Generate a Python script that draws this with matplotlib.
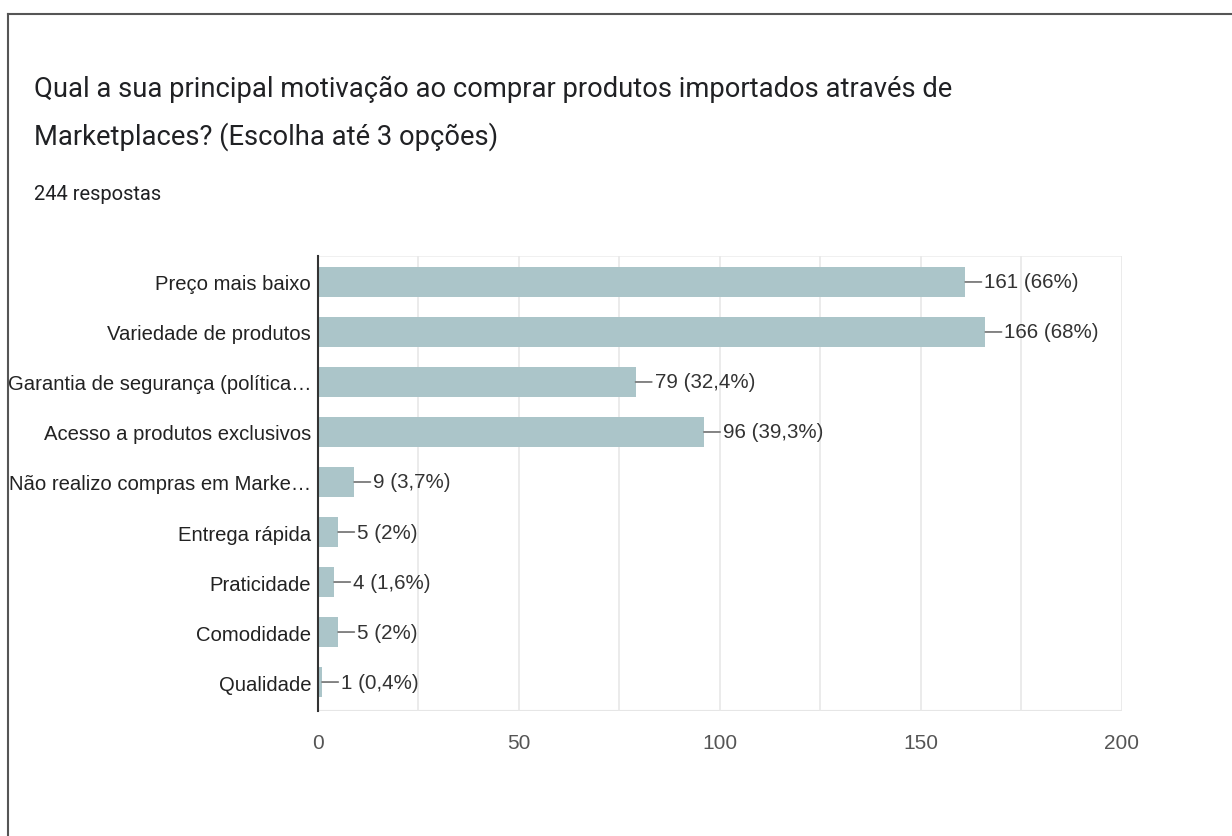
import matplotlib.pyplot as plt
from matplotlib.lines import Line2D

# Respostas do formulário
categorias = [
    'Preço mais baixo',
    'Variedade de produtos',
    'Garantia de segurança (política…',
    'Acesso a produtos exclusivos',
    'Não realizo compras em Marke…',
    'Entrega rápida',
    'Praticidade',
    'Comodidade',
    'Qualidade',
]
respostas = [161, 166, 79, 96, 9, 5, 4, 5, 1]
rotulos = ['161 (66%)', '166 (68%)', '79 (32,4%)', '96 (39,3%)', '9 (3,7%)',
           '5 (2%)', '4 (1,6%)', '5 (2%)', '1 (0,4%)']
ticks_x = [0, 50, 100, 150, 200]

fonte = ['Liberation Sans', 'DejaVu Sans']

fig = plt.figure(figsize=(12.32, 8.37), dpi=100)
ax = fig.add_axes([0.2581, 0.1493, 0.6526, 0.5437])

pos = list(range(len(categorias)))
ax.barh(pos, respostas, height=0.6, color='#abc5c9', zorder=2)

for i, (v, txt) in enumerate(zip(respostas, rotulos)):
    ax.annotate(txt, xy=(v, i), xytext=(19, 0), textcoords='offset pixels',
                va='center', ha='left', fontsize=14.8, color='#333333',
                family=fonte,
                arrowprops=dict(arrowstyle='-', color='#7a7a7a', lw=1.3,
                                shrinkA=0, shrinkB=0))

ax.set_xlim(0, 200)
ax.set_ylim(8.58, -0.52)
ax.set_yticks(pos)
ax.set_yticklabels(categorias, fontsize=14.6, color='#222222', family=fonte)
ax.set_xticks(ticks_x)
ax.set_xticklabels([str(t) for t in ticks_x], fontsize=15, color='#555555',
                   family=fonte)
ax.set_xticks(range(0, 201, 25), minor=True)
ax.tick_params(axis='both', which='both', length=0)
ax.tick_params(axis='y', pad=5)
ax.tick_params(axis='x', pad=16)
ax.grid(axis='x', which='both', color='#e8e8e8', lw=1.2, zorder=0)

for lado in ['top', 'bottom', 'right']:
    ax.spines[lado].set_visible(False)
ax.spines['left'].set_color('#333333')
ax.spines['left'].set_linewidth(1.5)
ax.spines['left'].set_zorder(3)
ax.axhline(-0.52, color='#eeeeee', lw=1.2, zorder=0)
ax.axhline(8.58, color='#e6e6e6', lw=1.5, zorder=0)

# Título e número de respostas
fig.text(0.0276, 0.893, 'Qual a sua principal motivação ao comprar produtos importados através de',
         fontsize=19.75, family='Roboto', color='#202124', va='center')
fig.text(0.0276, 0.837, 'Marketplaces? (Escolha até 3 opções)',
         fontsize=19.75, family='Roboto', color='#202124', va='center')
fig.text(0.0276, 0.768, '244 respostas', fontsize=14.5, family='Roboto',
         color='#202124', va='center')

# moldura
fig.add_artist(Line2D([8 / 1232, 1], [1 - 15 / 837] * 2, color='#555555', lw=1.5))
fig.add_artist(Line2D([8 / 1232] * 2, [0, 1 - 15 / 837], color='#555555', lw=1.5))

fig.savefig('out.png', dpi=100)
